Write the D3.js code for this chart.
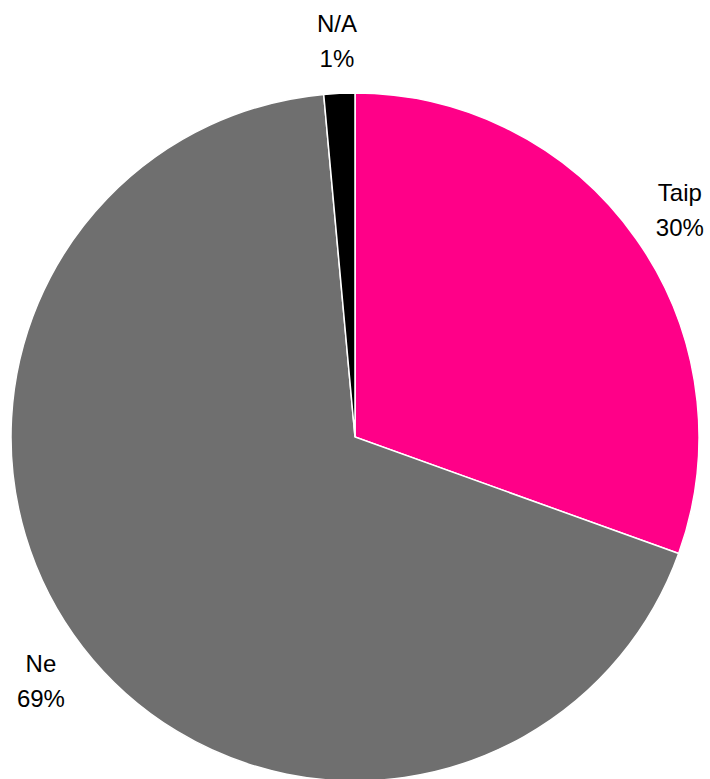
<!DOCTYPE html>
<html>
<head>
<meta charset="utf-8">
<script src="https://cdn.jsdelivr.net/npm/d3@7"></script>
<style>
  body { margin: 0; background: #fff; }
  text { font-family: "Liberation Sans", Arial, sans-serif; }
</style>
</head>
<body>
<svg id="chart"></svg>
<script>
const width = 710;
const height = 779;

// data
const categories = ["Taip", "Ne", "N/A"];
const values = [30.5, 68.05, 1.45];
const pctLabels = ["30%", "69%", "1%"];
const colors = ["#ff0088", "#6f6f6f", "#000000"];

const cx = 355, cy = 437;
const radius = 344;
const labelRadius = 397;

const svg = d3.select("#chart")
  .attr("width", width)
  .attr("height", height);

const g = svg.append("g")
  .attr("transform", `translate(${cx},${cy})`);

const pie = d3.pie().sort(null).value(d => d.value);
const data = categories.map((c, i) => ({name: c, value: values[i], pct: pctLabels[i], color: colors[i]}));
const arcs = pie(data);

const arc = d3.arc().innerRadius(0).outerRadius(radius);
const labelArc = d3.arc().innerRadius(labelRadius).outerRadius(labelRadius);

g.selectAll("path")
  .data(arcs)
  .join("path")
  .attr("d", arc)
  .attr("fill", d => d.data.color)
  .attr("stroke", "#fff")
  .attr("stroke-width", 1.5)
  .attr("stroke-linejoin", "miter");

const labels = g.selectAll("text")
  .data(arcs)
  .join("text")
  .attr("transform", d => `translate(${labelArc.centroid(d)})`)
  .attr("text-anchor", "middle")
  .attr("font-size", 24)
  .attr("fill", "#000");

labels.append("tspan")
  .attr("x", 0)
  .attr("y", -8)
  .text(d => d.data.name);

labels.append("tspan")
  .attr("x", 0)
  .attr("y", 27)
  .text(d => d.data.pct);
</script>
</body>
</html>
